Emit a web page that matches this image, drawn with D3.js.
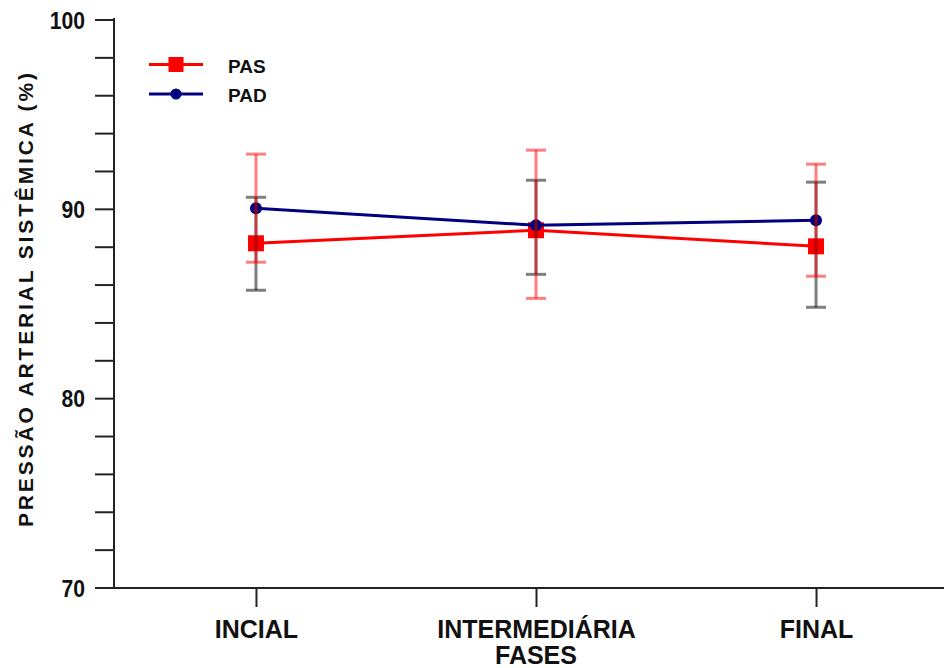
<!DOCTYPE html>
<html>
<head>
<meta charset="utf-8">
<script src="https://cdn.jsdelivr.net/npm/d3@7"></script>
<style>
  body { margin: 0; background: #fff; }
  svg { display: block; font-family: "Liberation Sans", Arial, sans-serif; }
</style>
</head>
<body>
<svg id="chart" width="944" height="668"></svg>
<script>
// phases on the x axis
const phases = ['INCIAL', 'INTERMEDIÁRIA', 'FINAL'];
// mean values
const pas = [88.18, 88.87, 88.02];
const pad = [90.03, 89.13, 89.40];
// error bar ends (low / high)
const pasLow = [87.18, 85.27, 86.44];
const pasHigh = [92.89, 93.10, 92.36];
const padLow = [85.70, 86.54, 84.80];
const padHigh = [90.61, 91.51, 91.41];
// y axis ticks
const yTicks = d3.range(70, 101, 2);
const yLabels = [70, 80, 90, 100];

const svg = d3.select('#chart');

const x = d3.scalePoint()
  .domain(phases)
  .range([114, 958])
  .padding(0.507);

const y = d3.scaleLinear()
  .domain([70, 100])
  .range([587.5, 19.5]);

const axisColor = '#222';

// y axis
const yAxis = svg.append('g')
  .attr('transform', 'translate(114,0)')
  .call(d3.axisLeft(y)
    .tickValues(yTicks)
    .tickSize(19)
    .tickSizeOuter(0)
    .tickFormat(d => yLabels.includes(d) ? d : ''));
yAxis.select('.domain').attr('stroke', axisColor).attr('stroke-width', 2)
  .attr('d', 'M0,18V588.5');
yAxis.selectAll('.tick line').attr('stroke', axisColor).attr('stroke-width', 2);
yAxis.selectAll('.tick text')
  .attr('x', 0)
  .attr('dy', '0.36em')
  .attr('transform', 'translate(-29,0) scale(0.88,1)')
  .attr('fill', '#111')
  .style('font-size', '24px')
  .style('font-weight', 'bold');

// x axis
const xAxis = svg.append('g')
  .attr('transform', 'translate(0,588)')
  .call(d3.axisBottom(x).tickSize(19).tickSizeOuter(0));
xAxis.select('.domain').attr('stroke', axisColor).attr('stroke-width', 2)
  .attr('d', 'M113,0H944');
xAxis.selectAll('.tick line').attr('stroke', axisColor).attr('stroke-width', 2);
xAxis.selectAll('.tick text')
  .attr('y', 50)
  .attr('dy', 0)
  .attr('fill', '#111')
  .style('font-size', '25px')
  .style('font-weight', 'bold');

// x axis title
svg.append('text')
  .attr('x', x('INTERMEDIÁRIA'))
  .attr('y', 664)
  .attr('text-anchor', 'middle')
  .attr('fill', '#111')
  .style('font-size', '25px')
  .style('font-weight', 'bold')
  .text('FASES');

// y axis title
svg.append('text')
  .attr('transform', 'translate(33,300) rotate(-90)')
  .attr('text-anchor', 'middle')
  .attr('textLength', 454)
  .attr('lengthAdjust', 'spacing')
  .attr('fill', '#111')
  .style('font-size', '21px')
  .style('font-weight', 'bold')
  .text('PRESSÃO ARTERIAL SISTÊMICA (%)');

const line = d3.line()
  .x((d, i) => x(phases[i]))
  .y(d => y(d));

// PAS line + squares
svg.append('path')
  .datum(pas)
  .attr('d', line)
  .attr('fill', 'none')
  .attr('stroke', '#ff0000')
  .attr('stroke-width', 3);
svg.selectAll('.pas-pt')
  .data(pas)
  .enter().append('rect')
  .attr('class', 'pas-pt')
  .attr('x', (d, i) => x(phases[i]) - 8)
  .attr('y', d => y(d) - 8)
  .attr('width', 16)
  .attr('height', 16)
  .attr('fill', '#ff0000');

// PAD line + circles
svg.append('path')
  .datum(pad)
  .attr('d', line)
  .attr('fill', 'none')
  .attr('stroke', '#000080')
  .attr('stroke-width', 3);
svg.selectAll('.pad-pt')
  .data(pad)
  .enter().append('circle')
  .attr('class', 'pad-pt')
  .attr('cx', (d, i) => x(phases[i]))
  .attr('cy', d => y(d))
  .attr('r', 6)
  .attr('fill', '#000080');

// error bars (drawn on top, semi transparent)
function errorBars(lows, highs, color) {
  const g = svg.append('g')
    .attr('stroke', color)
    .attr('stroke-opacity', 0.5)
    .attr('stroke-width', 3);
  phases.forEach(function (p, i) {
    const cx = x(p);
    g.append('line')
      .attr('x1', cx).attr('x2', cx)
      .attr('y1', y(lows[i])).attr('y2', y(highs[i]));
    [lows[i], highs[i]].forEach(function (v) {
      g.append('line')
        .attr('x1', cx - 10).attr('x2', cx + 10)
        .attr('y1', y(v)).attr('y2', y(v));
    });
  });
}
errorBars(padLow, padHigh, '#000000');
errorBars(pasLow, pasHigh, '#ff0000');

// legend
const legend = [
  { name: 'PAS', color: '#ff0000', shape: 'square', y: 64.5 },
  { name: 'PAD', color: '#000080', shape: 'circle', y: 94 }
];
const lg = svg.append('g');
legend.forEach(function (d) {
  lg.append('line')
    .attr('x1', 149).attr('x2', 203)
    .attr('y1', d.y).attr('y2', d.y)
    .attr('stroke', d.color)
    .attr('stroke-width', 3);
  if (d.shape === 'square') {
    lg.append('rect')
      .attr('x', 176 - 7.5).attr('y', d.y - 7.5)
      .attr('width', 15).attr('height', 15)
      .attr('fill', d.color);
  } else {
    lg.append('circle')
      .attr('cx', 176).attr('cy', d.y)
      .attr('r', 5.5)
      .attr('fill', d.color);
  }
  lg.append('text')
    .attr('x', 228)
    .attr('y', d.y + 8)
    .attr('fill', '#111')
    .style('font-size', '19px')
    .style('font-weight', 'bold')
    .text(d.name);
});
</script>
</body>
</html>
